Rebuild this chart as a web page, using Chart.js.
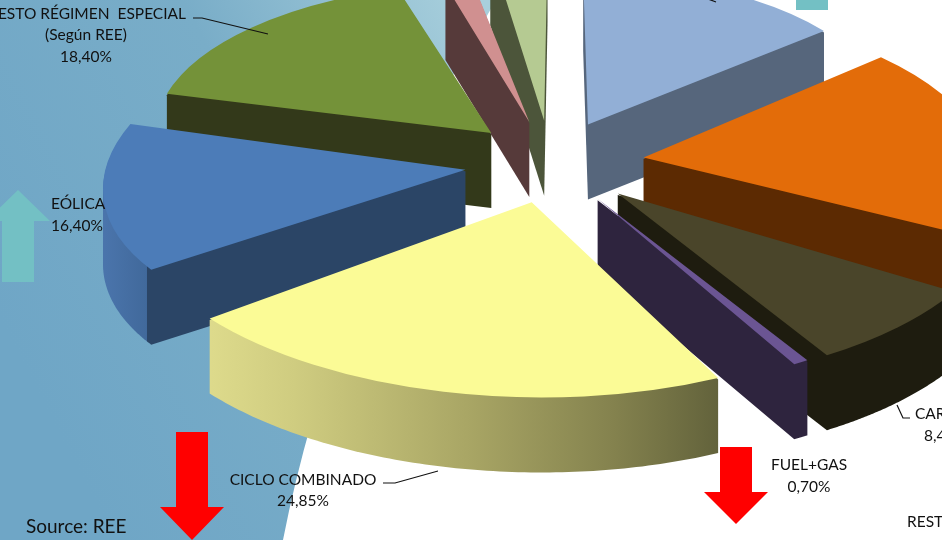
<!DOCTYPE html>
<html lang="es">
<head>
    <meta charset="UTF-8">
    <title>Generación eléctrica</title>
    <script src="https://cdn.jsdelivr.net/npm/chart.js"></script>
    <style>
        html, body { margin: 0; padding: 0; background: #fff; overflow: hidden; }
        canvas { display: block; }
    </style>
</head>
<body>
    <canvas id="pie" width="942" height="540"></canvas>
    <script>
        // clockwise from the top of the pie
        const categories = ['HIDRÁULICA', 'NUCLEAR', 'CARBÓN', 'FUEL+GAS', 'CICLO COMBINADO', 'EÓLICA', 'RESTO RÉGIMEN ESPECIAL', 'RESTO', 'OTRAS'];
        const shares = [16.25, 22.2, 8.4, 0.7, 24.85, 16.4, 18.4, 1.9, 3.75];

        const topColors = ['#92afd6', '#e36c09', '#4a452a', '#6b5593', '#fbfb96', '#4c7cb8', '#749239', '#d09090', '#b5ca92'];
        const wallColors = ['#56667c', '#5c2a02', '#1e1c0f', '#2e243e', null, null, '#33391a', '#563a3a', '#4c553a'];
        // walls with a rim shading: [fraction across the slice circle, colour]
        const wallStops = {
            4: [[0.1, '#dedb8c'], [0.21, '#cfcc80'], [0.42, '#a9a665'], [0.6, '#84824e'], [0.73, '#62623b']],
            5: [[0, '#4a74ab'], [0.057, '#41699b'], [0.058, '#2b4566'], [1, '#2b4566']]
        };

        // perspective of the old 3D chart, slice by slice
        const reachX = [0.76, 0.855, 0.98, 0.98, 1.02, 0.9, 0.84, 0.66, 0.69];
        const reachY = [0.76, 0.78, 0.98, 0.98, 1.0, 0.86, 0.77, 0.74, 0.89];
        const lean = [0, 0.2, 0, 0, 0.05, -0.25, 0, 0, 0];
        const explode = [85, 92, 92, 88, 85, 88, 85, 85, 85];
        const tilt = [-0.9, -3, -1.7, -1.8, 2.5, 2.5, 1.8, -0.5, 0.7];

        const centerX = 552, centerY = 162;
        const radius = 400, squash = 0.488, depth = 75;

        function plainOptions(fill) {
            return { backgroundColor: fill, borderWidth: 0, borderColor: fill, offset: 0, spacing: 0, borderRadius: 0, circular: true, borderAlign: 'center' };
        }

        function drawBackdrop(ctx) {
            const grad = ctx.createLinearGradient(0, 320, 500, 60);
            grad.addColorStop(0, '#6fa6c6');
            grad.addColorStop(0.55, '#79adc8');
            grad.addColorStop(1, '#a8cfdc');
            ctx.fillStyle = grad;
            ctx.beginPath();
            ctx.moveTo(0, 0);
            ctx.lineTo(496, 0);
            ctx.lineTo(457, 68);
            ctx.bezierCurveTo(375, 220, 315, 380, 283, 540);
            ctx.lineTo(0, 540);
            ctx.closePath();
            ctx.fill();
        }

        function drawArrow(ctx, color, x, tipY, baseY, headY, half, head) {
            ctx.fillStyle = color;
            ctx.beginPath();
            ctx.moveTo(x, tipY);
            ctx.lineTo(x + head, headY);
            ctx.lineTo(x + half, headY);
            ctx.lineTo(x + half, baseY);
            ctx.lineTo(x - half, baseY);
            ctx.lineTo(x - half, headY);
            ctx.lineTo(x - head, headY);
            ctx.closePath();
            ctx.fill();
        }

        // convex outline of a slice swept down by the pie thickness
        function hull(points) {
            const pts = points.slice().sort((a, b) => a[0] - b[0] || a[1] - b[1]);
            const cross = (o, a, b) => (a[0] - o[0]) * (b[1] - o[1]) - (a[1] - o[1]) * (b[0] - o[0]);
            const half = list => {
                const out = [];
                list.forEach(p => {
                    while (out.length > 1 && cross(out[out.length - 2], out[out.length - 1], p) <= 0) out.pop();
                    out.push(p);
                });
                out.pop();
                return out;
            };
            return half(pts).concat(half(pts.slice().reverse()));
        }

        function drawWall(ctx, arc, i, ox, oy) {
            const rx = reachX[i] * radius, ry = reachY[i] * radius * squash;
            const inset = 1.5;   // start under the top face so no dark fringe shows around it
            const pts = [[ox, oy + inset], [ox, oy + depth]];
            for (let n = 0; n <= 90; n++) {
                const t = arc.startAngle + (arc.endAngle - arc.startAngle) * n / 90;
                const x = ox + rx * Math.cos(t) + lean[i] * ry * Math.sin(t);
                const y = oy + ry * Math.sin(t);
                pts.push([x, y + inset], [x, y + depth]);
            }
            let fill = wallColors[i];
            if (wallStops[i]) {
                fill = ctx.createLinearGradient(ox - rx, 0, ox + rx, 0);
                wallStops[i].forEach(s => fill.addColorStop(s[0], s[1]));
            }
            ctx.fillStyle = fill;
            ctx.beginPath();
            hull(pts).forEach((p, n) => n ? ctx.lineTo(p[0], p[1]) : ctx.moveTo(p[0], p[1]));
            ctx.closePath();
            ctx.fill();
        }

        function drawSlices(chart) {
            const ctx = chart.ctx;
            const arcs = chart.getDatasetMeta(0).data;
            const order = arcs.map((a, i) => i).sort((p, q) => midAngle(arcs[p]).sin - midAngle(arcs[q]).sin);

            order.forEach(i => {
                const arc = arcs[i];
                const saved = { options: arc.options, startAngle: arc.startAngle, endAngle: arc.endAngle };
                const turn = tilt[i] * Math.PI / 180;
                arc.startAngle += turn;
                arc.endAngle += turn;

                const mid = midAngle(arc);
                const sx = reachX[i] * radius / arc.outerRadius;
                const sy = reachY[i] * radius / arc.outerRadius * squash;
                const ox = centerX + explode[i] * mid.cos;
                const oy = centerY + explode[i] * mid.sin * squash;

                drawWall(ctx, arc, i, ox, oy);

                arc.options = plainOptions(topColors[i]);
                ctx.setTransform(sx, 0, lean[i] * sy, sy, ox - arc.x * sx - lean[i] * sy * arc.y, oy - arc.y * sy);
                arc.draw(ctx);
                ctx.setTransform(1, 0, 0, 1, 0, 0);
                Object.assign(arc, saved);
            });
        }

        function midAngle(arc) {
            const a = (arc.startAngle + arc.endAngle) / 2;
            return { sin: Math.sin(a), cos: Math.cos(a) };
        }

        function pct(i) {
            return shares[i].toFixed(2).replace('.', ',') + '%';
        }

        function drawLabels(ctx) {
            const put = (text, x, y, align, font) => {
                ctx.textAlign = align || 'left';
                ctx.font = font || '15.5px Lato, Carlito, sans-serif';
                ctx.fillText(text, x, y);
            };
            ctx.fillStyle = '#111';
            ctx.textBaseline = 'middle';
            put('RESTO RÉGIMEN  ESPECIAL', 186, 14, 'right');
            put('(Según REE)', 86, 35, 'center');
            put(pct(6), 86, 57, 'center');
            put('EÓLICA', 51, 204);
            put(pct(5), 51, 226);
            put('CICLO COMBINADO', 303, 480, 'center');
            put(pct(4), 303, 501, 'center');
            put('FUEL+GAS', 809, 465, 'center');
            put(pct(3), 809, 487, 'center');
            put('CARBÓN', 915, 414);
            put(pct(2), 924, 436);
            put('RESTO', 907, 522);
            put('Source: REE', 26, 527, 'left', '19px Lato, Carlito, sans-serif');

            ctx.strokeStyle = '#111';
            ctx.lineWidth = 1.2;
            [
                [[193, 18], [202, 18], [268, 34]],
                [[383, 483], [395, 483], [438, 471]],
                [[897, 405], [903, 418], [910, 418]],
                [[708, -1], [716, 2]]
            ].forEach(line => {
                ctx.beginPath();
                line.forEach((p, n) => n ? ctx.lineTo(p[0], p[1]) : ctx.moveTo(p[0], p[1]));
                ctx.stroke();
            });
        }

        const pie3d = {
            id: 'pie3d',
            beforeDatasetsDraw(chart) {
                const ctx = chart.ctx;
                ctx.save();
                drawBackdrop(ctx);
                drawArrow(ctx, '#73c0c4', 18, 190, 282, 221, 16, 32);
                ctx.fillStyle = '#73c0c4';
                ctx.fillRect(796, 0, 32, 10);
                drawArrow(ctx, '#ff0000', 192, 540, 432, 507, 16, 32);
                drawArrow(ctx, '#ff0000', 736, 524, 447, 492, 16, 32);
                drawSlices(chart);
                drawLabels(ctx);
                ctx.restore();
                return false;
            }
        };

        new Chart(document.getElementById('pie'), {
            type: 'pie',
            data: {
                labels: categories,
                datasets: [{ data: shares, backgroundColor: topColors, borderWidth: 0 }]
            },
            options: {
                responsive: false,
                animation: false,
                rotation: 0,
                layout: { padding: 0 },
                plugins: { legend: { display: false }, tooltip: { enabled: false } }
            },
            plugins: [pie3d]
        });
    </script>
</body>
</html>
